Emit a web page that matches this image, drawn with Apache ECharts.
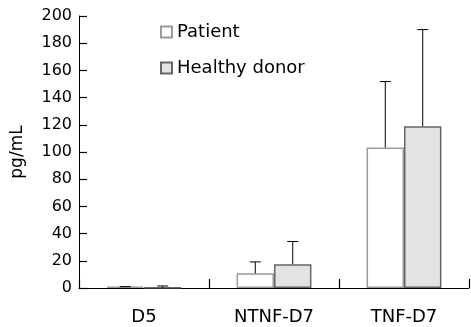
<!DOCTYPE html>
<html>
<head>
<meta charset="utf-8">
<script src="https://cdn.jsdelivr.net/npm/echarts@6/dist/echarts.min.js"></script>
<style>
    html, body { margin: 0; padding: 0; background: #fff; }
    #chart { width: 471px; height: 327px; }
</style>
</head>
<body>
<div id="chart"></div>
<script>
    // values
    const categories = ['D5', 'NTNF-D7', 'TNF-D7'];
    const patientMean = [1, 10.8, 103.3];
    const patientSD = [0, 8.4, 48.5];
    const healthyMean = [0.2, 17.5, 119];
    const healthySD = [1.3, 16.7, 71];
    const yTicks = [0, 20, 40, 60, 80, 100, 120, 140, 160, 180, 200];

    const font = 'DejaVu Sans';
    const barPct = 0.288;

    function errorSeries(name, mean, sd, side) {
        return {
            name: name,
            type: 'custom',
            z: 5,
            data: mean.map((m, i) => [i, m, sd[i]]),
            renderItem: function (params, api) {
                const i = api.value(0);
                const m = api.value(1);
                const s = api.value(2);
                const band = api.size([1, 0])[0];
                const base = api.coord([i, m]);
                const top = api.coord([i, m + s]);
                const x = base[0] + side * band * barPct / 2;
                const cap = 5.5;
                const st = { stroke: '#000', lineWidth: 1 };
                return {
                    type: 'group',
                    children: [
                        { type: 'line', shape: { x1: x, y1: base[1], x2: x, y2: top[1] }, style: st },
                        { type: 'line', shape: { x1: x - cap, y1: top[1], x2: x + cap, y2: top[1] }, style: st }
                    ]
                };
            }
        };
    }

    const chart = echarts.init(document.getElementById('chart'));
    chart.setOption({
        animation: false,
        textStyle: { fontFamily: font, color: '#000' },
        grid: { left: 79, right: 2, top: 16, bottom: 39, outerBoundsMode: 'none' },
        legend: {
            data: ['Patient', 'Healthy donor'],
            orient: 'vertical',
            left: 160,
            top: 23,
            padding: 0,
            itemWidth: 11,
            itemHeight: 11,
            itemGap: 18,
            icon: 'rect',
            textStyle: { fontFamily: font, fontSize: 18, color: '#000' }
        },
        xAxis: {
            type: 'category',
            data: categories,
            axisLine: { show: true, lineStyle: { color: '#000', width: 1 } },
            axisTick: { show: true, inside: true, length: 9, lineStyle: { color: '#000', width: 1.2 } },
            axisLabel: { fontFamily: font, fontSize: 18, color: '#000', margin: 20 }
        },
        yAxis: {
            type: 'value',
            min: yTicks[0],
            max: yTicks[yTicks.length - 1],
            interval: 20,
            name: 'pg/mL',
            nameLocation: 'middle',
            nameGap: 53,
            nameTextStyle: { fontFamily: font, fontSize: 17, color: '#000' },
            splitLine: { show: false },
            axisLine: { show: true, lineStyle: { color: '#000', width: 1 } },
            axisTick: { show: true, inside: true, length: 8, lineStyle: { color: '#000', width: 1.2 } },
            axisLabel: { fontFamily: font, fontSize: 16, color: '#000', margin: 7 }
        },
        series: [
            {
                name: 'Patient',
                type: 'bar',
                data: patientMean,
                barWidth: (barPct * 100) + '%',
                barGap: '0%',
                itemStyle: { color: '#fff', borderColor: '#999', borderWidth: 1.5 }
            },
            {
                name: 'Healthy donor',
                type: 'bar',
                data: healthyMean,
                barWidth: (barPct * 100) + '%',
                barGap: '0%',
                itemStyle: { color: '#e3e3e3', borderColor: '#666', borderWidth: 1.5 }
            },
            errorSeries('Patient SD', patientMean, patientSD, -1),
            errorSeries('Healthy SD', healthyMean, healthySD, 1)
        ]
    });
</script>
</body>
</html>
